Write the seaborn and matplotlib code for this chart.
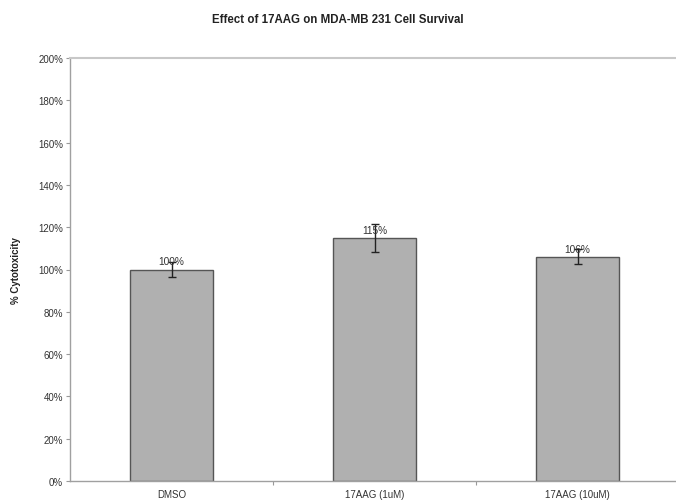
import matplotlib
matplotlib.use("Agg")
import matplotlib.pyplot as plt
import seaborn as sns
import pandas as pd
from matplotlib.ticker import FixedLocator, FuncFormatter

# data
treatments = ["DMSO", "17AAG (1uM)", "17AAG (10uM)"]
survival = [100, 115, 106]
errors = [3.5, 6.5, 3.5]
labels = ["100%", "115%", "106%"]

df = pd.DataFrame({"Treatment": treatments, "Survival": survival})

sns.set_theme(style="white")
plt.rcParams["font.family"] = ["Liberation Sans", "DejaVu Sans"]

fig = plt.figure(figsize=(6.76, 5.02), dpi=100)
ax = fig.add_axes([70 / 676, 20 / 502, 609 / 676, 423 / 502])

sns.barplot(data=df, x="Treatment", y="Survival", color="#b0b0b0",
            edgecolor="#555555", linewidth=1, width=0.41, errorbar=None,
            saturation=1, ax=ax)
ax.errorbar(range(len(treatments)), survival, yerr=errors, fmt="none",
            ecolor="#222222", elinewidth=1, capsize=3, capthick=1)

for i, (v, lab) in enumerate(zip(survival, labels)):
    ax.text(i, v + 1.5, lab, ha="center", va="bottom", fontsize=7.3, color="#333333")

ax.set_xlim(-0.5, 2.5)
ax.set_ylim(0, 200)
ax.yaxis.set_major_locator(FixedLocator(range(0, 201, 20)))
ax.yaxis.set_major_formatter(FuncFormatter(lambda v, p: f"{int(v)}%"))
ax.xaxis.set_minor_locator(FixedLocator([0.5, 1.5]))

ax.tick_params(axis="y", which="major", length=3, width=0.8, color="#999999",
               labelsize=7, labelcolor="#333333", direction="out", left=True, pad=2)
ax.tick_params(axis="x", which="major", length=0, labelsize=7,
               labelcolor="#333333", pad=6)
ax.tick_params(axis="x", which="minor", length=3, width=0.8, color="#999999",
               direction="out", bottom=True)

for side in ["left", "bottom", "top"]:
    ax.spines[side].set_visible(True)
    ax.spines[side].set_color("#a0a0a0")
    ax.spines[side].set_linewidth(1)
ax.spines["top"].set_color("#c8c8c8")
ax.spines["top"].set_linewidth(1.5)
ax.spines["right"].set_visible(False)

ax.set_xlabel("")
ax.set_ylabel("% Cytotoxicity", fontsize=7, fontweight="bold", color="#222222", labelpad=12)
fig.text(338 / 676, 1 - 20 / 502, "Effect of 17AAG on MDA-MB 231 Cell Survival",
         ha="center", va="center", fontsize=8.3, fontweight="bold", color="#222222")

fig.savefig("out.png", dpi=100, facecolor="white")
